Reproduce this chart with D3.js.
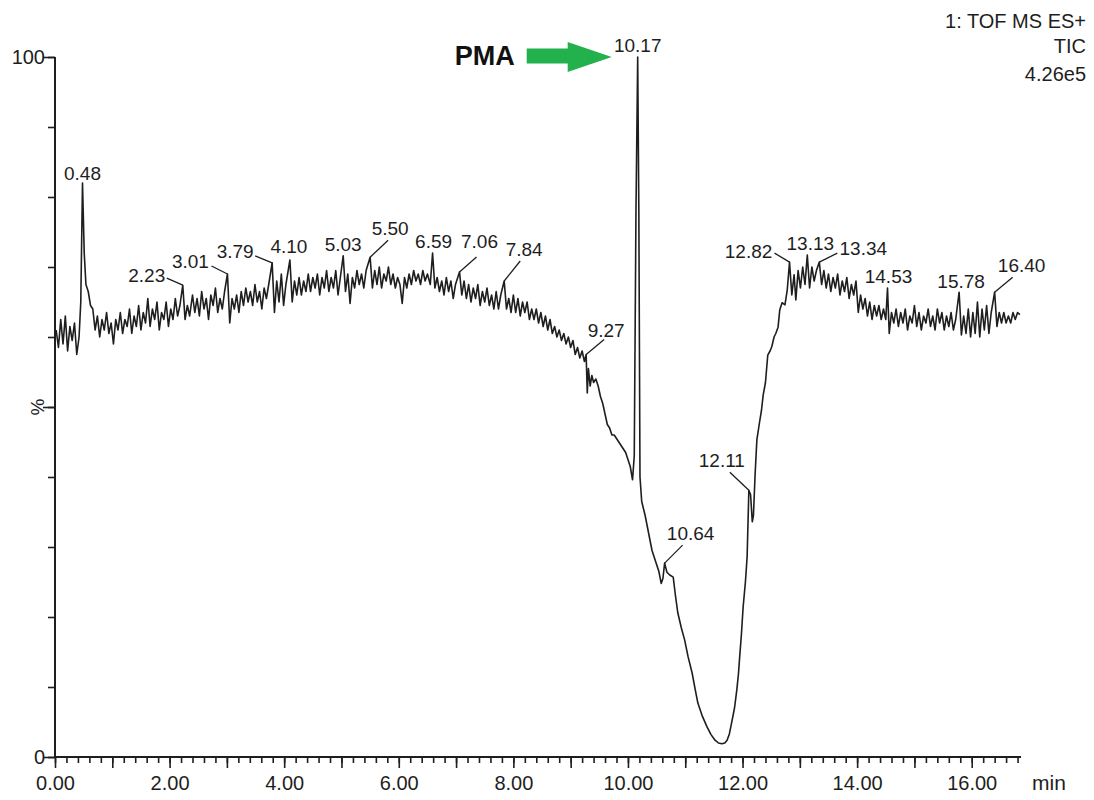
<!DOCTYPE html>
<html>
<head>
<meta charset="utf-8">
<script src="https://cdn.jsdelivr.net/npm/d3@7"></script>
<style>
  body { margin: 0; background: #fff; }
  svg { display: block; font-family: "Liberation Sans", Arial, sans-serif; }
</style>
</head>
<body>
<svg width="1094" height="800"></svg>
<script>
// TIC trace, [time (min), intensity (%)]
const traceA = [
  [0.02,61.0],[0.06,58.5],[0.10,62.5],[0.14,59.0],[0.18,63.0],[0.22,58.0],[0.26,61.5],[0.30,59.5],
  [0.34,62.0],[0.38,57.5],[0.42,60.0],[0.45,65.0],[0.48,82.0],[0.51,72.0],[0.54,67.5],[0.58,66.5],
  [0.62,64.5],[0.66,64.0],[0.70,61.0],[0.74,63.0],[0.78,60.0],[0.82,62.5],[0.86,61.0],[0.90,63.5],
  [0.94,60.5],[0.98,62.0],[1.02,59.0],[1.06,62.5],[1.10,61.0],[1.14,63.5],[1.18,60.5],[1.22,62.5],
  [1.26,61.5],[1.30,64.0],[1.34,60.5],[1.38,63.0],[1.42,61.5],[1.46,64.5],[1.50,61.0],[1.54,63.5],
  [1.58,62.0],[1.62,65.5],[1.66,61.5],[1.70,64.0],[1.74,62.5],[1.78,65.0],[1.82,61.0],[1.86,63.5],
  [1.90,62.5],[1.94,65.0],[1.98,61.5],[2.02,64.0],[2.06,62.5],[2.10,65.5],[2.14,63.0],[2.18,64.5],
  [2.23,67.4],[2.27,62.5],[2.31,64.5],[2.35,63.0],[2.40,66.0],[2.44,63.5],[2.48,65.5]
];
const traceB = [
  [2.52,63.0],[2.56,66.5],[2.60,64.0],[2.64,65.5],[2.68,62.5],[2.72,66.0],[2.76,64.5],[2.80,67.0],
  [2.84,63.5],[2.88,65.5],[2.92,64.0],[2.96,66.5],[3.01,69.0],[3.05,62.0],[3.09,65.5],[3.13,64.0],
  [3.17,66.0],[3.21,63.5],[3.25,66.5],[3.29,64.5],[3.33,67.0],[3.37,65.0],[3.41,66.5],[3.45,64.5],
  [3.49,67.5],[3.53,65.0],[3.57,66.5],[3.61,64.0],[3.65,67.0],[3.69,65.5],[3.73,67.5],[3.79,70.6],
  [3.83,63.5],[3.87,68.0],[3.91,65.0],[3.95,69.0],[3.99,64.5],[4.03,67.5],[4.10,71.0],[4.14,65.0],
  [4.18,68.0],[4.22,66.0],[4.26,68.5],[4.30,66.0],[4.34,68.0],[4.38,66.5],[4.42,69.0],[4.46,66.5],
  [4.50,68.5],[4.54,67.0],[4.58,69.0],[4.62,66.0],[4.66,68.5],[4.70,67.0],[4.74,69.5],[4.78,66.5],
  [4.82,68.5],[4.86,67.0],[4.90,69.5],[4.94,66.0],[4.98,68.5]
];
const traceC = [
  [5.03,71.6],[5.07,66.5],[5.11,69.0],[5.15,64.8],[5.19,68.5],[5.23,67.0],[5.27,69.5],[5.31,67.5],
  [5.35,69.0],[5.39,67.0],[5.43,69.5],[5.50,71.4],[5.54,67.0],[5.58,69.5],[5.62,67.5],[5.66,70.0],
  [5.70,67.0],[5.74,69.0],[5.78,68.0],[5.82,70.0],[5.86,67.5],[5.90,69.0],[5.94,67.0],[5.98,68.5],
  [6.02,67.5],[6.06,64.8],[6.10,68.5],[6.14,67.0],[6.18,69.0],[6.22,67.5],[6.26,69.5],[6.30,68.0],
  [6.34,69.0],[6.38,67.5],[6.42,69.5],[6.46,68.0],[6.50,69.0],[6.55,67.5],[6.59,72.0],[6.63,67.0],
  [6.67,68.5],[6.71,66.5],[6.75,68.0],[6.79,66.0],[6.83,68.5],[6.87,66.5],[6.91,68.0],[6.95,65.5],
  [6.99,67.5],[7.06,69.3],[7.10,66.0],[7.14,68.0],[7.18,65.5],[7.22,67.5],[7.26,65.0],[7.30,67.0],
  [7.34,65.5],[7.38,67.5],[7.42,64.5],[7.46,66.5],[7.50,65.0],[7.54,67.0],[7.58,64.5],[7.62,66.0],
  [7.66,64.0],[7.70,66.5],[7.74,64.0],[7.78,66.0],[7.84,68.0],[7.88,64.0],[7.92,65.5],[7.96,63.5]
];
const traceD = [
  [8.00,66.0],[8.04,63.5],[8.08,65.5],[8.12,63.0],[8.16,65.0],[8.20,63.5],[8.24,65.0],[8.28,62.5],
  [8.32,64.0],[8.36,62.5],[8.40,64.0],[8.44,62.0],[8.48,63.5],[8.52,61.5],[8.56,63.0],[8.60,61.0],
  [8.64,62.5],[8.68,60.5],[8.72,61.5],[8.76,60.0],[8.80,61.0],[8.84,59.5],[8.88,60.5],[8.92,59.0],
  [8.96,60.0],[9.00,58.5],[9.04,59.5],[9.08,57.5],[9.12,58.5],[9.16,57.0],[9.20,58.0],[9.24,56.5],
  [9.27,57.5],[9.29,52.0],[9.31,55.5],[9.34,53.0],[9.37,54.5],[9.40,53.5],[9.44,54.0],[9.48,53.0],
  [9.52,51.5],[9.56,50.5],[9.60,49.0],[9.64,47.5],[9.68,47.0],[9.72,46.0],[9.76,46.0],[9.80,45.5],
  [9.84,45.0],[9.88,44.5],[9.92,44.0],[9.96,43.5],[10.00,42.5],[10.04,41.5],[10.08,39.6],[10.11,43.0],
  [10.14,78.0],[10.17,100],[10.19,78.0],[10.21,40.0],[10.24,36.5]
];
const traceE = [
  [10.30,34.5],[10.36,32.0],[10.42,29.5],[10.48,28.0],[10.54,26.5],[10.58,24.8],[10.61,25.5],[10.64,27.7],
  [10.68,26.4],[10.73,26.0],[10.79,25.7],[10.83,23.0],[10.87,20.6],[10.93,18.5],[10.99,16.7],[11.05,14.3],
  [11.12,12.0],[11.17,9.8],[11.22,7.7],[11.30,5.8],[11.38,4.3],[11.45,3.2],[11.52,2.4],[11.58,2.0],
  [11.64,1.9],[11.69,2.0],[11.73,2.4],[11.77,3.3],[11.81,4.9],[11.86,7.0],[11.90,9.6],[11.93,12.0],
  [11.95,14.3],[11.98,17.5],[12.01,21.4],[12.05,25.0],[12.08,28.6],[12.11,38.1],[12.14,37.5],[12.17,33.6],
  [12.19,34.5],[12.22,40.5],[12.25,45.3],[12.30,48.0],[12.33,49.5],[12.36,51.7],[12.40,53.5],[12.44,57.4],
  [12.48,58.0],[12.51,58.6],[12.55,60.0],[12.58,60.5],[12.62,61.4],[12.65,63.9],[12.69,64.9],[12.74,64.6],
  [12.78,66.7],[12.82,70.7],[12.86,66.0],[12.90,68.9],[12.93,65.3]
];
const traceF = [
  [12.97,69.5],[13.01,67.0],[13.05,70.0],[13.09,67.5],[13.13,71.7],[13.17,67.0],[13.21,70.0],[13.25,68.0],
  [13.29,69.5],[13.34,70.7],[13.38,67.5],[13.42,69.5],[13.46,67.0],[13.50,69.0],[13.54,66.5],[13.58,68.5],
  [13.62,67.0],[13.66,69.0],[13.70,66.0],[13.74,68.0],[13.78,66.5],[13.82,68.5],[13.86,65.5],[13.90,67.5],
  [13.94,66.0],[13.98,68.0],[14.02,63.5],[14.06,66.0],[14.10,64.0],[14.14,65.5],[14.18,63.0],[14.22,65.0],
  [14.26,62.5],[14.30,64.5],[14.34,63.0],[14.38,64.5],[14.42,62.5],[14.46,64.0],[14.50,62.5],[14.53,67.0],
  [14.56,60.5],[14.60,63.5]
];
const traceG = [
  [14.64,62.0],[14.68,64.0],[14.72,61.5],[14.76,63.5],[14.80,62.0],[14.84,64.0],[14.88,61.0],[14.92,63.0],
  [14.96,62.0],[15.00,64.5],[15.04,61.5],[15.08,63.5],[15.12,61.0],[15.16,63.0],[15.20,62.0],[15.24,64.0],
  [15.28,61.5],[15.32,63.0],[15.36,61.0],[15.40,64.0],[15.44,62.0],[15.48,63.5],[15.52,61.0],[15.56,63.0],
  [15.60,61.5],[15.64,63.5],[15.68,61.0],[15.72,62.5],[15.78,66.4],[15.82,60.3],[15.86,63.0],[15.90,60.5],
  [15.94,64.0],[15.98,60.0],[16.02,63.5],[16.06,60.5],[16.10,65.0],[16.14,60.0],[16.18,64.0],[16.22,61.0],
  [16.26,64.5],[16.30,60.5],[16.34,63.5],[16.40,66.4],[16.44,61.5],[16.48,63.5],[16.52,62.0],[16.56,63.5],
  [16.60,62.0],[16.64,63.0],[16.68,62.0],[16.72,63.5],[16.76,62.5],[16.80,63.5],[16.84,63.2]
];

// labelled peaks (retention times)
const peakTimes = [0.48, 2.23, 3.01, 3.79, 4.10, 5.03, 5.50, 6.59, 7.06, 7.84,
                   9.27, 10.17, 10.64, 12.11, 12.82, 13.13, 13.34, 14.53, 15.78, 16.40];

const headerLines = ["1: TOF MS ES+", "TIC", "4.26e5"];
const xLabelTicks = [0, 2, 4, 6, 8, 10, 12, 14, 16];
const yLabelTicks = [0, 100];

// layout only: leader end offset from apex, then text centre offset from leader end
const labelLayout = [
  [0, 0, 0, -3], [-16, -7, -20, 4], [-16, -8, -21, 2], [-17, -7, -20, 2], [0, 0, -1, -7],
  [0, 0, 0, -5], [18, -17, 2, -5], [0, 0, 1, -5], [17, -15, 3, -9], [16, -20, 4, -5],
  [18, -15, 2, -3], [0, 0, 0, -5], [18, -18, 8, -5], [-19, -18, -8, -5], [-15, -9, -26, 5],
  [0, 0, 3, -5], [18, -9, 26, 2], [0, 0, 1, -5], [0, 0, 2, -4], [18, -15, 9, -5]
];

const trace = [].concat(traceA, traceB, traceC, traceD, traceE, traceF, traceG);

const svg = d3.select("svg");
const ink = "#1e1e1e";

const x = d3.scaleLinear().domain([0, 16.86]).range([55, 1021]);
const y = d3.scaleLinear().domain([0, 100]).range([757, 57]);

// x axis: minor ticks every 0.2, longer ticks every minute
const xMinor = d3.axisBottom(x).tickValues(d3.range(0, 16.81, 0.2)).tickSize(6).tickFormat("");
const xMajor = d3.axisBottom(x).tickValues(d3.range(0, 17, 1)).tickSize(11)
  .tickFormat(d => xLabelTicks.includes(d) ? d.toFixed(2) : "");

const gxm = svg.append("g").attr("transform", "translate(0,757)").call(xMinor);
const gx = svg.append("g").attr("transform", "translate(0,757)").call(xMajor);
[gxm, gx].forEach(g => {
  g.select(".domain").remove();
  g.selectAll("line").attr("stroke", ink).attr("stroke-width", 1.6);
});
gx.selectAll("text").attr("dy", null).attr("y", 33)
  .attr("font-size", 20).attr("fill", ink).attr("font-family", null);
svg.append("line").attr("x1", x(0)).attr("x2", x(16.86)).attr("y1", 757).attr("y2", 757)
  .attr("stroke", ink).attr("stroke-width", 2);
svg.append("text").attr("x", 1032).attr("y", 790).attr("font-size", 21).attr("fill", ink).text("min");

// y axis
const yMinor = d3.axisLeft(y).tickValues(d3.range(0, 101, 10)).tickSize(7).tickFormat("");
const yMajor = d3.axisLeft(y).tickValues([0, 50, 100]).tickSize(12)
  .tickFormat(d => yLabelTicks.includes(d) ? d : "");
const gym = svg.append("g").attr("transform", "translate(55,0)").call(yMinor);
const gy = svg.append("g").attr("transform", "translate(55,0)").call(yMajor);
[gym, gy].forEach(g => {
  g.select(".domain").remove();
  g.selectAll("line").attr("stroke", ink).attr("stroke-width", 1.6);
});
gy.selectAll("text").attr("x", -10).attr("font-size", 20).attr("fill", ink).attr("font-family", null);
svg.append("line").attr("x1", 55).attr("x2", 55).attr("y1", y(100)).attr("y2", y(0))
  .attr("stroke", ink).attr("stroke-width", 2);
svg.append("text").attr("transform", `translate(44,${y(50)}) rotate(-90)`)
  .attr("text-anchor", "middle").attr("font-size", 19).attr("fill", ink).text("%");

// the chromatogram
const line = d3.line().x(d => x(d[0])).y(d => y(d[1]));
svg.append("path").datum(trace).attr("d", line)
  .attr("fill", "none").attr("stroke", ink).attr("stroke-width", 1.6).attr("stroke-linejoin", "round");

// peak labels with leader lines
const apexOf = t => d3.least(trace, d => Math.abs(d[0] - t));
const labels = svg.append("g").attr("fill", ink).attr("font-size", 19);
peakTimes.forEach((t, i) => {
  const a = apexOf(t);
  const [ldx, ldy, tdx, tdy] = labelLayout[i];
  const ax = x(t), ay = y(a[1]);
  if (ldx || ldy) {
    svg.append("line").attr("x1", ax).attr("y1", ay).attr("x2", ax + ldx).attr("y2", ay + ldy)
      .attr("stroke", ink).attr("stroke-width", 1.3);
  }
  labels.append("text").attr("x", ax + ldx + tdx).attr("y", ay + ldy + tdy)
    .attr("text-anchor", "middle").text(t.toFixed(2));
});

// PMA arrow pointing at the 10.17 peak
const tipX = x(10.17) - 26, tipY = y(100);
svg.append("polygon")
  .attr("points", [[tipX - 85, tipY - 8.5], [tipX - 44, tipY - 8.5], [tipX - 44, tipY - 15], [tipX, tipY],
                   [tipX - 44, tipY + 15], [tipX - 44, tipY + 6.5], [tipX - 85, tipY + 6.5]].join(" "))
  .attr("fill", "#22b14c");
svg.append("text").attr("x", tipX - 157).attr("y", tipY + 8).attr("font-size", 27)
  .attr("font-weight", "bold").attr("fill", "#111").text("PMA");

// header, top right
svg.append("g").selectAll("text").data(headerLines).enter().append("text")
  .attr("x", 1086).attr("y", (d, i) => [28, 53, 81][i])
  .attr("text-anchor", "end").attr("font-size", 20).attr("fill", ink).text(d => d);
</script>
</body>
</html>
